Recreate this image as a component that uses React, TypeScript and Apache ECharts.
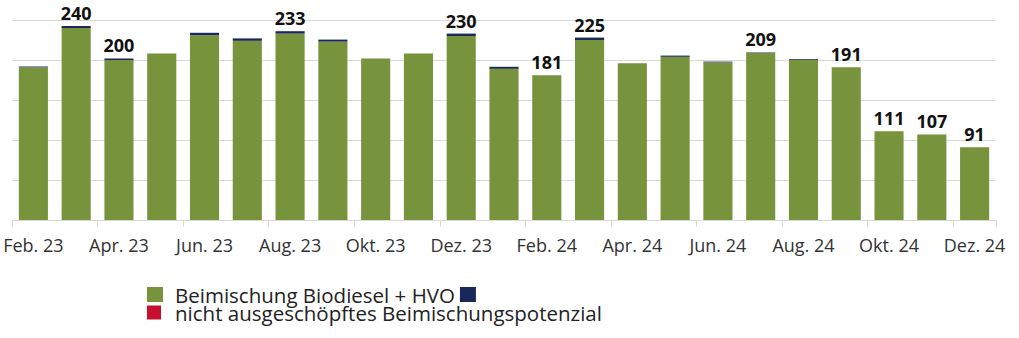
import React, { useEffect, useRef } from "react";
import * as echarts from "echarts";

const categories = [
  "Feb. 23", "Mär. 23", "Apr. 23", "Mai 23", "Jun. 23", "Jul. 23", "Aug. 23", "Sep. 23",
  "Okt. 23", "Nov. 23", "Dez. 23", "Jan. 24", "Feb. 24", "Mär. 24", "Apr. 24", "Mai 24",
  "Jun. 24", "Jul. 24", "Aug. 24", "Sep. 24", "Okt. 24", "Nov. 24", "Dez. 24",
];

const biodieselHvo = [191, 240, 200, 208, 231, 224, 233, 223, 202, 208, 230, 189, 181, 225, 196, 204, 197, 209, 200, 191, 111, 107, 91];
const blueShare = [1, 2.5, 2, 0, 3, 3, 3, 2.5, 0, 0, 3, 2.5, 0, 3, 0, 1.5, 1, 0.5, 1, 0, 0, 0, 0];
const unusedPotential = [0, 0, 0, 0, 0, 0, 0, 0, 0, 0, 0, 0, 0, 0, 0, 0, 0, 0, 0, 0, 0, 0, 0];
const valueLabels: (number | null)[] = [null, 240, 200, null, null, null, 233, null, null, null, 230, null, 181, 225, null, null, null, 209, null, 191, 111, 107, 91];

const NAME_GREEN = "Beimischung Biodiesel + HVO";
const NAME_BLUE = " ";
const NAME_RED = "nicht ausgeschöpftes Beimischungspotenzial";

const FONT = "'Open Sans', 'Noto Sans', sans-serif";

export default function App() {
  const ref = useRef<HTMLDivElement>(null);
  useEffect(() => {
    if (!ref.current) return;
    const chart = echarts.init(ref.current, undefined, { renderer: "svg" });
    chart.setOption({
      animation: false,
      textStyle: { fontFamily: FONT },
      grid: { left: 12, right: 23, top: 20, bottom: 118, containLabel: false },
      legend: [
        {
          left: 147,
          top: 284,
          padding: 0,
          itemWidth: 16,
          itemHeight: 15,
          itemGap: 5,
          icon: "rect",
          data: [NAME_GREEN, NAME_BLUE],
          selectedMode: false,
          textStyle: { fontSize: 20.5, lineHeight: 16, color: "#222", fontFamily: FONT, padding: [0, 0, 0, 7] },
        },
        {
          left: 147,
          top: 302,
          padding: 0,
          itemWidth: 14,
          itemHeight: 14,
          icon: "rect",
          data: [NAME_RED],
          selectedMode: false,
          textStyle: { fontSize: 20.5, lineHeight: 16, color: "#222", fontFamily: FONT, padding: [0, 0, 0, 9] },
        },
      ],
      xAxis: {
        type: "category",
        data: categories,
        axisLine: { show: true, lineStyle: { color: "#d9d9d9", width: 1 } },
        axisTick: { show: true, interval: 1, length: 7, lineStyle: { color: "#d9d9d9" } },
        axisLabel: { interval: 1, fontSize: 18, color: "#333", margin: 16, fontFamily: FONT },
      },
      yAxis: {
        type: "value",
        min: 0,
        max: 250,
        interval: 50,
        axisLabel: { show: false },
        axisLine: { show: false },
        axisTick: { show: false },
        splitLine: { lineStyle: { color: "#d9d9d9", width: 1 } },
      },
      series: [
        {
          name: NAME_GREEN,
          type: "bar",
          stack: "total",
          barCategoryGap: "32%",
          itemStyle: { color: "#77933c" },
          data: biodieselHvo,
        },
        {
          name: NAME_BLUE,
          type: "bar",
          stack: "total",
          itemStyle: { color: "#1a2859" },
          data: blueShare,
        },
        {
          name: NAME_RED,
          type: "bar",
          stack: "total",
          itemStyle: { color: "#c8102e" },
          data: unusedPotential.map((v, i) => ({
            value: v,
            label: {
              show: valueLabels[i] != null,
              position: "top",
              distance: 4,
              formatter: () => String(valueLabels[i]),
              fontSize: 18,
              fontWeight: "bold",
              color: "#111",
              fontFamily: FONT,
            },
          })),
        },
      ],
    });
    return () => chart.dispose();
  }, []);
  return (
    <div
      ref={ref}
      style={{ position: "fixed", left: 0, top: 0, width: 1019, height: 338, background: "#fff" }}
    />
  );
}
